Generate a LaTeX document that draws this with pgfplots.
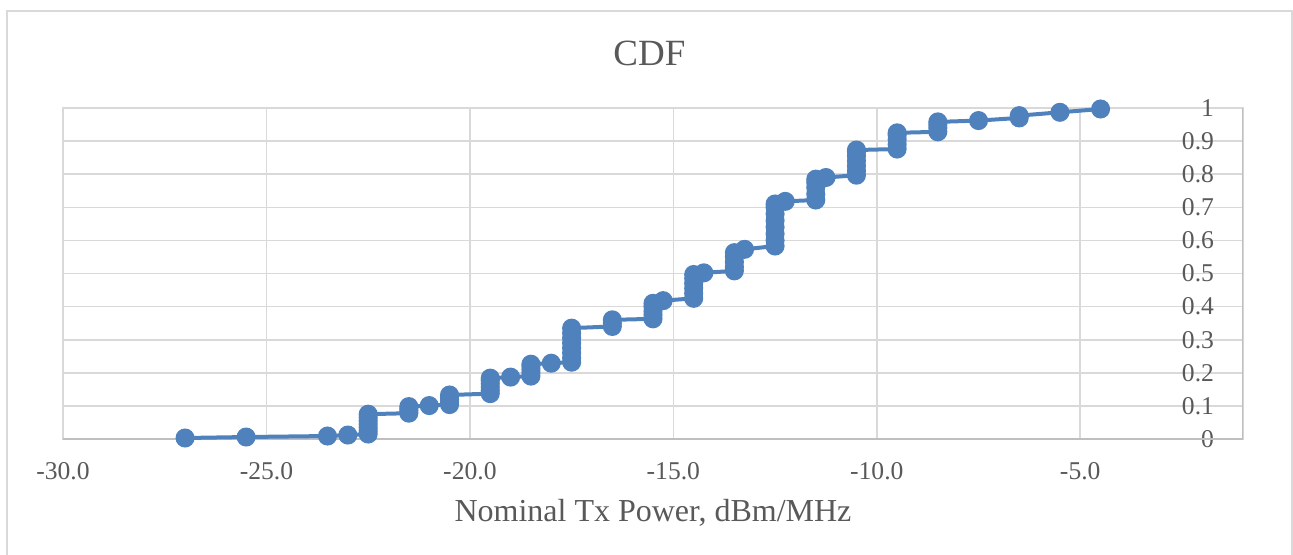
\documentclass[border=0pt]{standalone}
\usepackage{fontspec}
\setmainfont{Liberation Serif}
\usepackage{pgfplots}
\pgfplotsset{compat=1.18}
\definecolor{series}{HTML}{4F81BD}
\definecolor{txt}{HTML}{595959}
\definecolor{gridc}{HTML}{D9D9D9}
\definecolor{axisc}{HTML}{BFBFBF}

\begin{document}
\begin{tikzpicture}
% picture is 1293 x 555 px at 0.5pt per px, origin top-left
\path[use as bounding box] (0,0) rectangle (646.5pt,-277.5pt);
\draw[gridc, line width=0.7pt] (3.5pt,-277.5pt) -- (3.5pt,-5.5pt) -- (646pt,-5.5pt) -- (646pt,-277.5pt);
\begin{axis}[
  at={(31.5pt,-219.5pt)}, anchor=south west,
  width=590pt, height=165.5pt, scale only axis,
  xmin=-30, xmax=-1, ymin=0, ymax=1,
  xtick={-30,-25,...,-5}, ytick={0,0.1,...,1.01},
  major tick length=0pt,
  grid=major, major grid style={gridc, line width=0.8pt},
  axis line style={gridc, line width=0.8pt},
  yticklabel pos=right,
  font=\fontsize{12.8}{14}\selectfont, text=txt,
  xticklabel style={anchor=center, yshift=-16.25pt,
    /pgf/number format/.cd, fixed, fixed zerofill, precision=1, assume math mode=true},
  yticklabel style={anchor=east, xshift=-11pt,
    /pgf/number format/.cd, fixed, precision=1, assume math mode=true},
  every axis title shift=0pt,
  title={CDF},
  title style={at={(axis description cs:0.497,1)}, anchor=center, yshift=27.5pt,
    font=\fontsize{18.5}{20}\selectfont},
  xlabel={Nominal Tx Power, dBm/MHz},
  xlabel style={at={(axis description cs:0.5,0)}, anchor=center, yshift=-37pt,
    font=\fontsize{16}{18}\selectfont},
]
\draw[axisc, line width=0.8pt] (rel axis cs:0,0) -- (rel axis cs:1,0);
\draw[axisc, line width=0.8pt] (rel axis cs:1,0) -- (rel axis cs:1,1);
\addplot[series, line width=2pt, mark=*, mark size=3.75pt,
  mark options={fill=series, draw=series}] coordinates {
  (-27,0.003) (-25.5,0.006) (-23.5,0.009) (-23,0.012)
  (-22.5,0.015) (-22.5,0.025) (-22.5,0.035) (-22.5,0.045) (-22.5,0.055) (-22.5,0.065) (-22.5,0.075)
  (-21.5,0.078) (-21.5,0.085) (-21.5,0.092) (-21.5,0.098)
  (-21,0.101)
  (-20.5,0.104) (-20.5,0.112) (-20.5,0.12) (-20.5,0.128) (-20.5,0.133)
  (-19.5,0.137) (-19.5,0.147) (-19.5,0.157) (-19.5,0.167) (-19.5,0.177) (-19.5,0.184)
  (-19,0.187)
  (-18.5,0.19) (-18.5,0.2) (-18.5,0.21) (-18.5,0.22) (-18.5,0.226)
  (-18,0.229)
  (-17.5,0.232) (-17.5,0.245) (-17.5,0.26) (-17.5,0.275) (-17.5,0.29) (-17.5,0.305) (-17.5,0.32) (-17.5,0.335)
  (-16.5,0.34) (-16.5,0.35) (-16.5,0.36)
  (-15.5,0.363) (-15.5,0.375) (-15.5,0.387) (-15.5,0.4) (-15.5,0.41)
  (-15.25,0.418)
  (-14.5,0.425) (-14.5,0.44) (-14.5,0.455) (-14.5,0.47) (-14.5,0.485) (-14.5,0.497)
  (-14.25,0.502)
  (-13.5,0.508) (-13.5,0.52) (-13.5,0.535) (-13.5,0.55) (-13.5,0.563)
  (-13.25,0.573)
  (-12.5,0.583) (-12.5,0.6) (-12.5,0.62) (-12.5,0.64) (-12.5,0.66) (-12.5,0.68) (-12.5,0.7) (-12.5,0.71)
  (-12.25,0.718)
  (-11.5,0.722) (-11.5,0.74) (-11.5,0.76) (-11.5,0.775) (-11.5,0.785)
  (-11.25,0.79)
  (-10.5,0.797) (-10.5,0.81) (-10.5,0.825) (-10.5,0.84) (-10.5,0.855) (-10.5,0.868) (-10.5,0.873)
  (-9.5,0.876) (-9.5,0.89) (-9.5,0.905) (-9.5,0.918) (-9.5,0.925)
  (-8.5,0.928) (-8.5,0.94) (-8.5,0.95) (-8.5,0.958)
  (-7.5,0.962)
  (-6.5,0.97) (-6.5,0.977)
  (-5.5,0.987)
  (-4.5,0.997)
};
\end{axis}
\end{tikzpicture}
\end{document}
